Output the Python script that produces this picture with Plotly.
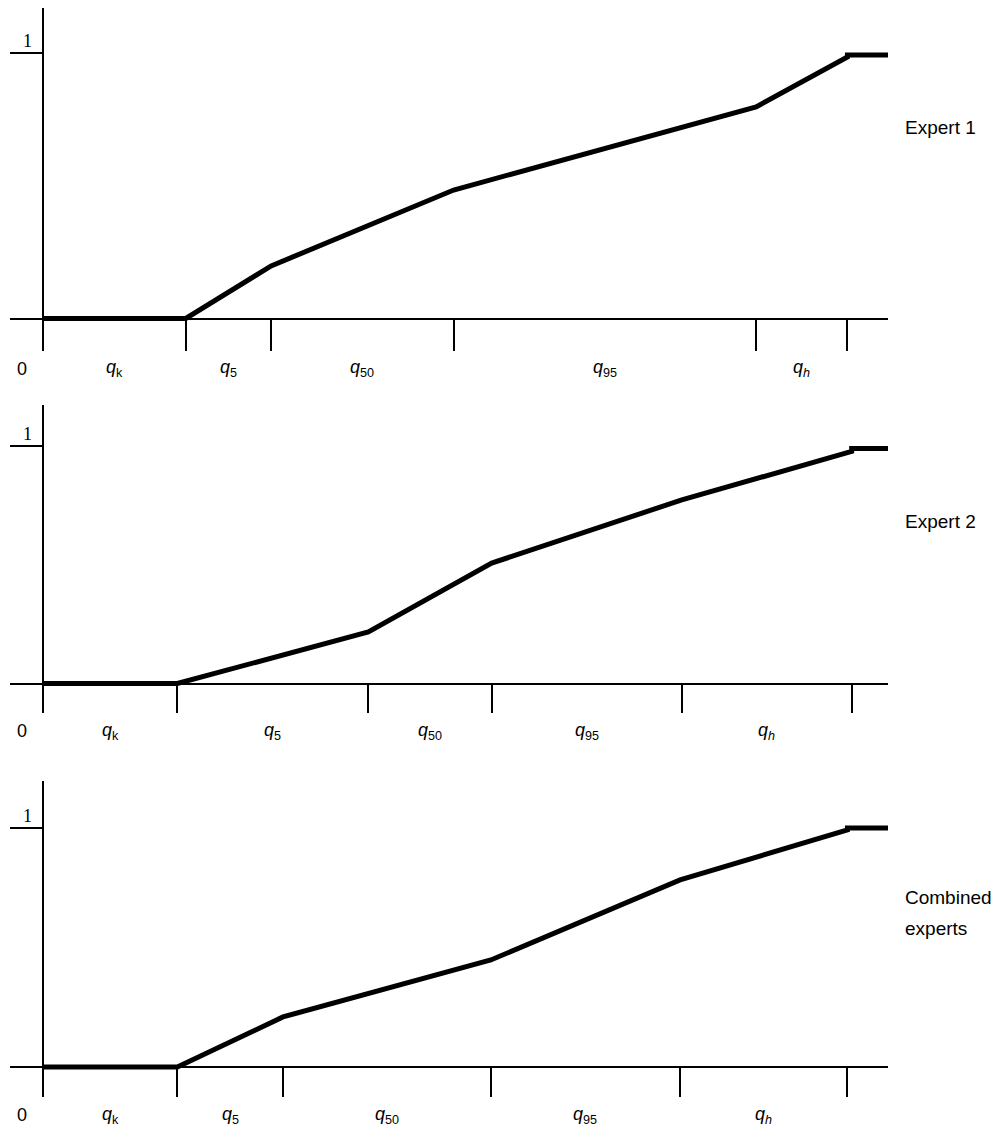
import plotly.graph_objects as go

# ---------------- data ----------------
panel_names = ["Expert 1", "Expert 2", "Combined<br>experts"]
interval_labels = ["<i>q</i><sub>k</sub>", "<i>q</i><sub>5</sub>", "<i>q</i><sub>50</sub>",
                   "<i>q</i><sub>95</sub>", "<i>q</i><sub><i>h</i></sub>"]

# quantile positions on the horizontal axis (arbitrary units, 0 = origin, 100 = axis end)
expert1_q = [16.9, 27.0, 48.6, 84.4, 95.2]
expert2_q = [15.9, 38.5, 53.1, 75.6, 95.7]
combined_q = [15.9, 28.4, 53.0, 75.4, 95.2]

# cumulative probability at each quantile position
expert1_p = [0.0, 0.198, 0.484, 0.797, 0.985]
expert2_p = [0.0, 0.217, 0.507, 0.773, 0.977]
combined_p = [0.0, 0.209, 0.447, 0.781, 0.990]

# level of the flat tail beyond q_h, and end of the axis
tail_level = [0.992, 0.990, 0.998]
axis_end = [100.0, 100.0, 100.0]

# ---------------- layout helpers ----------------
W, H = 999, 1130
panels = [
    # (top px, bottom px, y0 px, y1 px, side label centre px)
    dict(top=8, bottom=351, y0=318.5, y1=53.0, label_y=127),
    dict(top=405, bottom=713, y0=683.5, y1=446.0, label_y=521),
    dict(top=781, bottom=1097, y0=1067.0, y1=827.5, label_y=913),
]
qs = [expert1_q, expert2_q, combined_q]
ps = [expert1_p, expert2_p, combined_p]

x_left_px, x_right_px, origin_px = 10, 888, 43
unit = (x_right_px - origin_px) / 100.0
x_range = [-(origin_px - x_left_px) / unit, 100.0]

fig = go.Figure()
annotations = []
lab_font = dict(family="Liberation Sans, Arial, sans-serif", size=18, color="black")
side_font = dict(family="Liberation Sans, Arial, sans-serif", size=19, color="black")

for i in range(3):
    n = "" if i == 0 else str(i + 1)
    xa, ya = "x" + n, "y" + n
    P = panels[i]
    ppu = P["y0"] - P["y1"]
    y_top = (P["y0"] - P["top"]) / ppu
    y_bot = -(P["bottom"] - P["y0"]) / ppu

    xs = [0.0] + qs[i] + [qs[i][-1], axis_end[i]]
    ys = [0.0] + ps[i] + [tail_level[i], tail_level[i]]
    fig.add_trace(go.Scatter(x=xs, y=ys, mode="lines", xaxis=xa, yaxis=ya,
                             line=dict(color="black", width=5), showlegend=False,
                             hoverinfo="skip"))

    fig.layout["xaxis" + n] = dict(
        domain=[x_left_px / W, x_right_px / W], range=x_range, anchor=ya,
        showgrid=False, showline=False, zeroline=True, zerolinecolor="black",
        zerolinewidth=2, ticks="inside", ticklen=P["bottom"] - P["y0"], tickwidth=2,
        tickcolor="black", tickvals=qs[i], showticklabels=False, fixedrange=True)
    fig.layout["yaxis" + n] = dict(
        domain=[1 - P["bottom"] / H, 1 - P["top"] / H], range=[y_bot, y_top],
        anchor="free", position=origin_px / W,
        showgrid=False, showline=False, zeroline=True, zerolinecolor="black",
        zerolinewidth=2, ticks="outside", ticklen=origin_px - x_left_px, tickwidth=2,
        tickcolor="black", tickvals=[1], showticklabels=False, fixedrange=True)

    # "1" label
    annotations.append(dict(x=-1.8, y=1, xref=xa, yref=ya, text="1", showarrow=False,
                            yshift=12, font=dict(family="Liberation Serif, Times New Roman, serif",
                                                 size=18, color="black")))
    label_y = 1 - (P["bottom"] + 18) / H
    # "0" label
    annotations.append(dict(x=-2.5, y=label_y, xref=xa, yref="paper", text="0",
                            showarrow=False, yanchor="middle", font=lab_font))
    # interval labels
    edges = [0.0] + qs[i]
    for k, lab in enumerate(interval_labels):
        mid = (edges[k] + edges[k + 1]) / 2
        annotations.append(dict(x=mid, y=label_y, xref=xa, yref="paper", text=lab,
                                showarrow=False, yanchor="middle", font=lab_font))
    # side label (one annotation per line, 30 px line spacing)
    lines = panel_names[i].split("<br>")
    for j, line in enumerate(lines):
        cy = P["label_y"] + (j - (len(lines) - 1) / 2) * 30
        annotations.append(dict(x=903 / W, y=1 - cy / H, xref="paper", yref="paper",
                                text=line, showarrow=False, xanchor="left",
                                align="left", yanchor="middle", font=side_font))

fig.update_layout(width=W, height=H, margin=dict(l=0, r=0, t=0, b=0),
                  paper_bgcolor="white", plot_bgcolor="white",
                  annotations=annotations)

fig.write_html("out.html", config={"displayModeBar": False},
               post_script="document.body.style.margin='0';document.body.style.overflow='hidden';")
